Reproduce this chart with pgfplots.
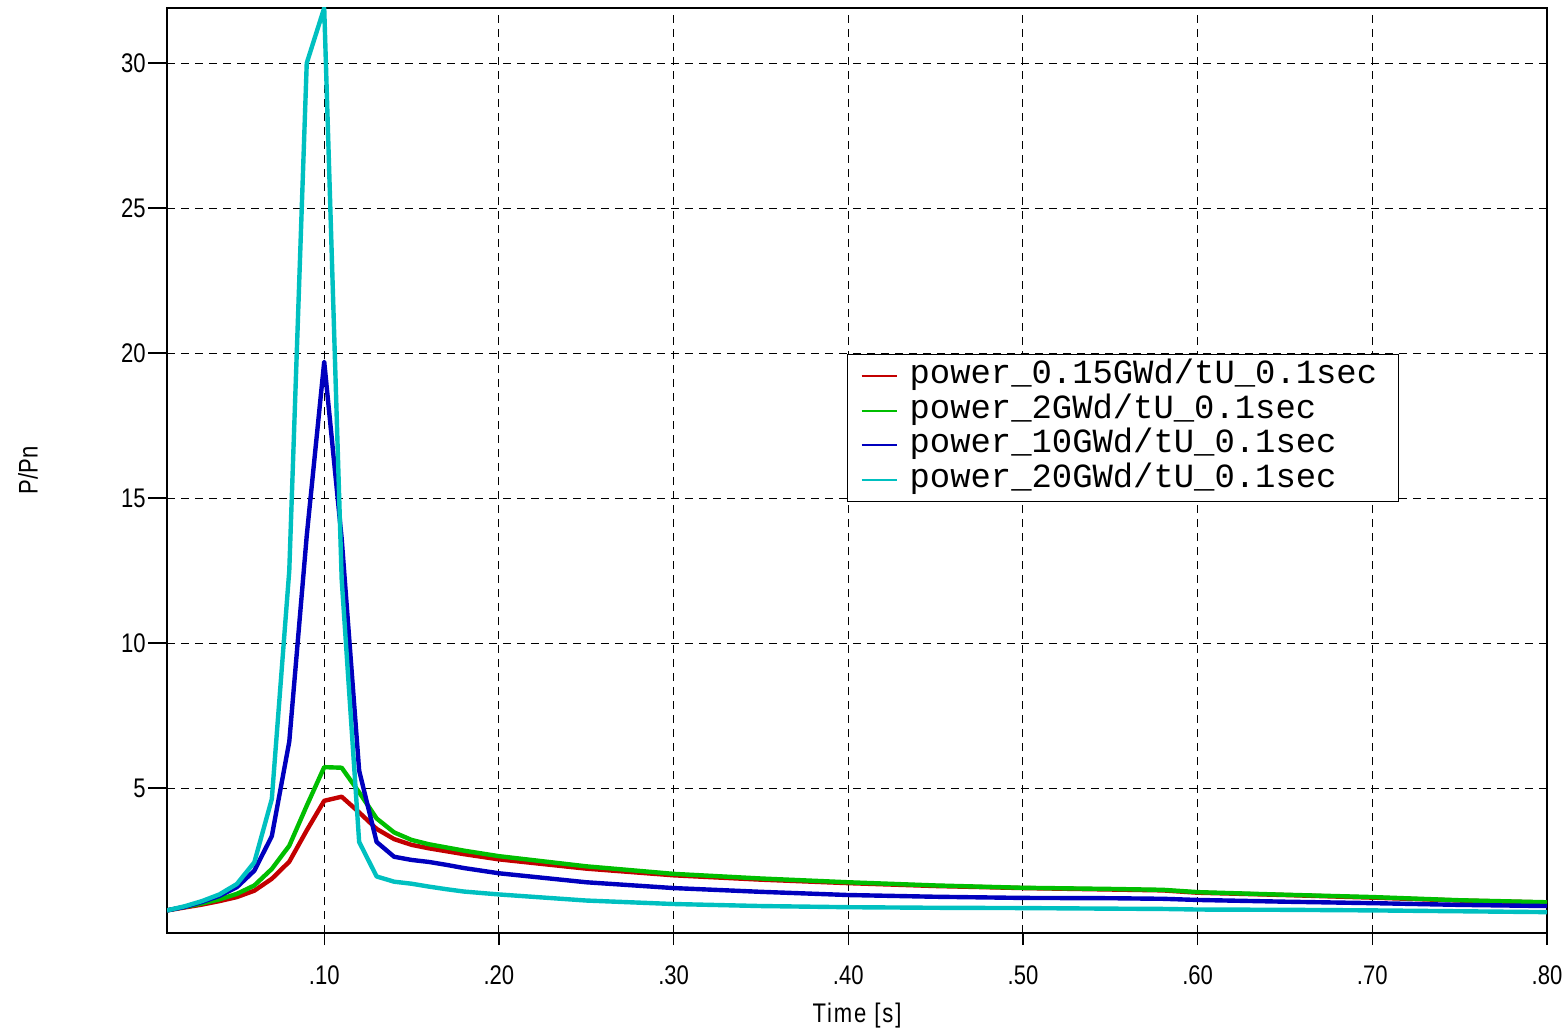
\documentclass[border=0pt]{standalone}
\usepackage{fontspec}
\setmainfont{Liberation Sans}[FakeStretch=0.82]
\newfontfamily\legfont{Liberation Mono}
\usepackage{pgfplots}
\pgfplotsset{compat=1.18}
\definecolor{cred}{RGB}{195,0,0}
\definecolor{cgreen}{RGB}{0,190,0}
\definecolor{cblue}{RGB}{0,0,190}
\definecolor{ccyan}{RGB}{0,192,192}
\pgfplotstableread{
x red green blue cyan
0.01 0.78 0.78 0.78 0.78
0.02 0.88 0.90 0.90 0.92
0.03 0.98 1.02 1.07 1.10
0.04 1.10 1.16 1.28 1.33
0.05 1.24 1.35 1.58 1.69
0.06 1.46 1.64 2.15 2.44
0.07 1.87 2.21 3.34 4.62
0.08 2.46 3.01 6.60 12.5
0.09 3.54 4.39 13.7 30.0
0.10 4.56 5.72 19.7 31.9
0.11 4.70 5.70 13.6 12.2
0.12 4.16 4.85 5.60 3.14
0.13 3.59 3.95 3.14 1.95
0.14 3.24 3.47 2.63 1.77
0.15 3.04 3.21 2.52 1.70
0.16 2.92 3.06 2.45 1.60
0.17 2.82 2.95 2.35 1.51
0.18 2.72 2.84 2.24 1.43
0.20 2.54 2.65 2.06 1.33
0.25 2.22 2.30 1.75 1.12
0.30 1.99 2.04 1.55 1.00
0.35 1.84 1.88 1.42 0.93
0.40 1.72 1.75 1.31 0.89
0.45 1.62 1.64 1.25 0.87
0.50 1.55 1.56 1.21 0.86
0.55 1.50 1.52 1.20 0.84
0.58 1.47 1.49 1.18 0.83
0.60 1.39 1.41 1.14 0.81
0.65 1.31 1.32 1.08 0.80
0.70 1.22 1.24 1.03 0.78
0.75 1.12 1.13 0.97 0.75
0.80 1.05 1.06 0.93 0.72
}\datatable
\begin{document}
\begin{tikzpicture}
\begin{axis}[
  scale only axis, width=690bp, height=462.5bp,
  xmin=0.01, xmax=0.80, ymin=0, ymax=31.9,
  xtick={0.1,0.2,0.3,0.4,0.5,0.6,0.7,0.8},
  xticklabels={.10,.20,.30,.40,.50,.60,.70,.80},
  ytick={5,10,15,20,25,30},
  yticklabels={5,10,15,20,25,30},
  tick pos=left,
  tick align=outside,
  major tick length=7.5bp,
  ytick style={/pgfplots/major tick length=9.3bp},
  xtick style={/pgfplots/major tick length=6bp},
  tick style={black, line width=0.6bp},
  grid=major,
  major grid style={black, line width=0.5bp, dash pattern=on 4bp off 3bp},
  axis line style={line width=0.6bp},
  every tick label/.append style={font=\fontsize{13.5}{13.5}\selectfont, inner sep=0pt},
  xticklabel style={anchor=north, yshift=-8.5bp},
  yticklabel style={anchor=east, xshift=-3bp},
  xlabel={\addfontfeatures{LetterSpace=7}Time [s]},
  ylabel={P/Pn},
  label style={font=\fontsize{13.5}{13.5}\selectfont},
  xlabel style={at={(axis description cs:0.5,0)}, anchor=center, yshift=-41.5bp},
  ylabel style={at={(axis description cs:-0.1007,0.5)}, anchor=center},
  legend style={at={(rel axis cs:0.4928,0.626)}, anchor=north west,
    font=\legfont\fontsize{17}{17}\selectfont, draw=black, line width=0.6bp,
    inner xsep=6.5bp, inner ysep=3.5bp, row sep=2.8bp,
    nodes={inner sep=0pt, text height=11bp, text depth=3.5bp, anchor=west},
    /tikz/every odd column/.append style={column sep=6bp},
    /tikz/every even column/.append style={nodes={text width=238bp, align=left}}},
  legend cell align=left,
  legend image code/.code={\draw[#1, line width=1bp] (0bp,0bp) -- (17.5bp,0bp);},
  every axis plot/.append style={line width=2.2bp, line join=round},
]
\addplot[cred] table[x=x, y=red] {\datatable};
\addlegendentry{power\_0.15GWd/tU\_0.1sec}
\addplot[cgreen] table[x=x, y=green] {\datatable};
\addlegendentry{power\_2GWd/tU\_0.1sec}
\addplot[cblue] table[x=x, y=blue] {\datatable};
\addlegendentry{power\_10GWd/tU\_0.1sec}
\addplot[ccyan] table[x=x, y=cyan] {\datatable};
\addlegendentry{power\_20GWd/tU\_0.1sec}
\end{axis}
\pgfresetboundingbox
\path[use as bounding box] ([xshift=-83.5bp, yshift=-48.5bp]current axis.south west) rectangle ([xshift=10.5bp, yshift=4bp]current axis.north east);
\end{tikzpicture}
\end{document}
